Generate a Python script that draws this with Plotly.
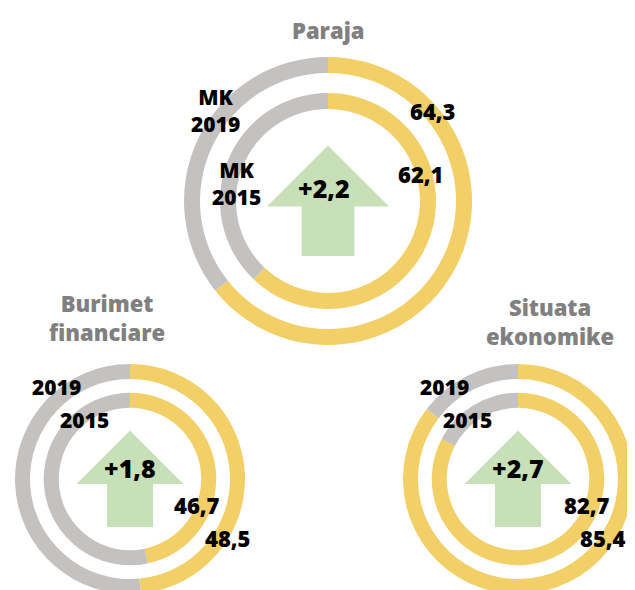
import plotly.graph_objects as go

W, H = 635, 590
OFF = 8  # page body margin in the viewer

# ---- data ----
titles = ["Paraja", "Burimet<br>financiare", "Situata<br>ekonomike"]
outer_labels = ["MK<br>2019", "2019", "2019"]
inner_labels = ["MK<br>2015", "2015", "2015"]
values_2019 = [64.3, 48.5, 85.4]
values_2015 = [62.1, 46.7, 82.7]
changes = ["+2,2", "+1,8", "+2,7"]

YELLOW = "#F2CF67"
GRAY = "#C4C2C0"
GREEN = "#C8E0B7"
TITLE_GRAY = "#808080"
FONT = "Open Sans"

def fmt(v):
    return f"{v:.1f}".replace(".", ",")

# ---- layout geometry (target pixels in the viewport) ----
panels = [
    dict(cx=328, cy=201, r=144, t=16, s=1.15,
         title=(328, 30), olab=(215, 110), ilab=(236, 183),
         oval=(432, 111), ival=(420, 174), chg=(324, 188)),
    dict(cx=130, cy=479, r=115, t=15, s=1.0,
         title=(107, 317), olab=(56, 387), ilab=(84, 420),
         oval=(227, 538), ival=(197, 505), chg=(130, 468)),
    dict(cx=518, cy=479, r=115, t=15, s=1.0,
         title=(550, 321), olab=(444, 387), ilab=(467, 420),
         oval=(603, 538), ival=(587, 505), chg=(518, 468)),
]

def px(x):
    return (x - OFF) / W

def py(y):
    return (H - (y - OFF)) / H

def dom(cx, cy, r):
    return dict(x=[max(0, px(cx - r)), min(1, px(cx + r))],
                y=[max(0, py(cy + r)), min(1, py(cy - r))])

fig = go.Figure()
shapes = []
annotations = []

for i, p in enumerate(panels):
    r_out = p["r"]
    r_in = p["r"] * 0.75
    t = p["t"]
    for val, rr in ((values_2019[i], r_out), (values_2015[i], r_in)):
        fig.add_trace(go.Pie(
            values=[val, 100 - val],
            marker=dict(colors=[YELLOW, GRAY], line=dict(width=0)),
            hole=(rr - t) / rr,
            direction="clockwise", sort=False, rotation=0,
            textinfo="none", hoverinfo="skip", showlegend=False,
            domain=dom(p["cx"], p["cy"], rr),
        ))

    # arrow (decoration)
    s = p["s"]
    cx = p["cx"]
    apex = p["cy"] - 47 * s
    base = apex + 51 * s
    bottom = base + 43 * s
    hw, sw = 51 * s, 22 * s
    pts = [(cx, apex), (cx + hw, base), (cx + sw, base), (cx + sw, bottom),
           (cx - sw, bottom), (cx - sw, base), (cx - hw, base)]
    path = "M " + " L ".join(f"{px(x):.5f},{py(y):.5f}" for x, y in pts) + " Z"
    shapes.append(dict(type="path", xref="paper", yref="paper", path=path,
                       fillcolor=GREEN, line=dict(color=GREEN, width=2),
                       layer="below"))

    def ann(text, pos, color="black", size=21):
        annotations.append(dict(
            text=text, x=px(pos[0]), y=py(pos[1]),
            xref="paper", yref="paper", xanchor="center", yanchor="middle",
            showarrow=False,
            font=dict(family=FONT, size=size, color=color, weight=800),
        ))

    ann(titles[i], p["title"], TITLE_GRAY, 22)
    ann(outer_labels[i], p["olab"])
    ann(inner_labels[i], p["ilab"])
    ann(fmt(values_2019[i]), p["oval"], "black", 22)
    ann(fmt(values_2015[i]), p["ival"], "black", 22)
    ann(changes[i], p["chg"], "black", 25)

fig.update_layout(
    width=W, height=H,
    margin=dict(l=0, r=0, t=0, b=0),
    paper_bgcolor="white", plot_bgcolor="white",
    showlegend=False,
    shapes=shapes, annotations=annotations,
)

fig.write_html("out.html")
